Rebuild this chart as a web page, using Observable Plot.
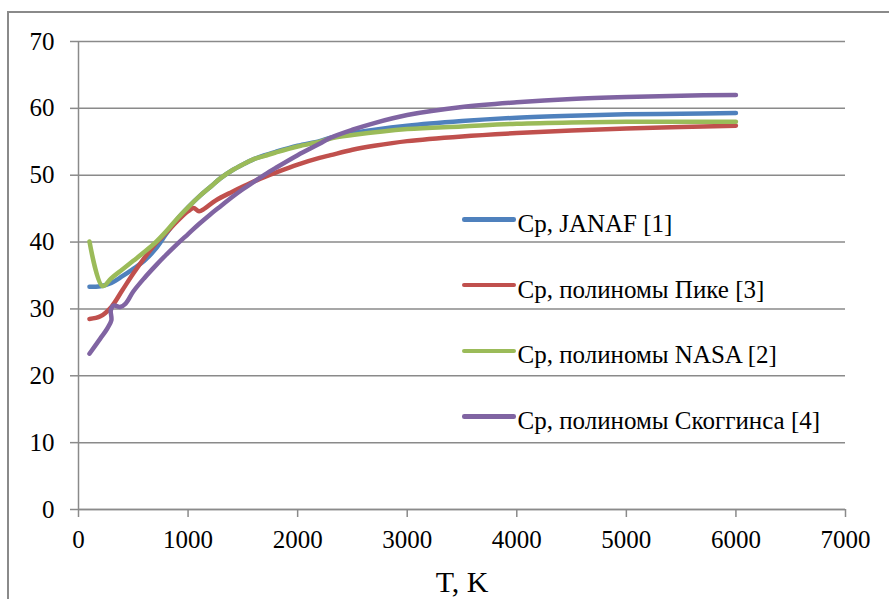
<!DOCTYPE html>
<html>
<head>
<meta charset="utf-8">
<script src="https://cdn.jsdelivr.net/npm/d3@7"></script>
<script src="https://cdn.jsdelivr.net/npm/@observablehq/plot@0.6"></script>
<style>
  html, body { margin: 0; padding: 0; background: #fff; overflow: hidden; }
  #wrap { position: relative; width: 889px; height: 599px; overflow: hidden; font-family: "Liberation Serif", Tinos, serif; }
  #border { position: absolute; left: 7px; top: 11px; width: 960px; height: 720px; border: 2px solid #8a8a8a; box-sizing: border-box; pointer-events: none; }
  #chart { position: absolute; left: 0; top: 0; }
  .sw { position: absolute; height: 4.5px; border-radius: 2.25px; width: 54.5px; left: 461.5px; }
  .lt { position: absolute; left: 517.5px; font-size: 25px; line-height: 25px; white-space: nowrap; color: #000; font-family: "Liberation Serif", Tinos, serif; }
</style>
</head>
<body>
<div id="wrap"><div id="border"></div><div id="chart"></div><div id="legend"></div></div>
<script>
// ---- Data ----
const seriesNames = ["Cp, JANAF [1]", "Cp, полиномы Пике [3]", "Cp, полиномы NASA [2]", "Cp, полиномы Скоггинса [4]"];
const seriesColors = ["#4F81BD", "#C0504D", "#9BBB59", "#8064A2"];

const T_janaf  = [100, 200, 300, 400, 500, 600, 700, 800, 900, 1000, 1100, 1200, 1300, 1400, 1500, 1600, 1700, 1800, 2000, 2200, 2300, 2500, 3000, 3500, 4000, 4500, 5000, 5500, 6000];
const cp_janaf = [33.3, 33.4, 33.9, 34.9, 36.0, 37.2, 38.9, 41.2, 43.4, 45.2, 46.8, 48.2, 49.6, 50.7, 51.6, 52.4, 53.0, 53.5, 54.4, 55.1, 55.6, 56.3, 57.4, 58.1, 58.6, 58.9, 59.1, 59.2, 59.3];

const T_pike  = [100, 200, 300, 400, 500, 600, 700, 800, 900, 1000, 1050, 1100, 1150, 1250, 1400, 1500, 1660, 1800, 2000, 2200, 2300, 2500, 2700, 3000, 3500, 4000, 4500, 5000, 5500, 6000];
const cp_pike = [28.5, 28.9, 30.3, 32.8, 35.3, 37.6, 39.7, 41.4, 43.1, 44.6, 45.1, 44.6, 45.0, 46.2, 47.5, 48.3, 49.5, 50.4, 51.6, 52.6, 53.0, 53.8, 54.4, 55.1, 55.8, 56.3, 56.7, 57.0, 57.2, 57.4];

const T_nasa  = [100, 220, 300, 400, 500, 600, 700, 800, 900, 1000, 1100, 1200, 1300, 1400, 1500, 1600, 1700, 1800, 2000, 2200, 2300, 2500, 3000, 3500, 4000, 4500, 5000, 5500, 6000];
const cp_nasa = [40.1, 33.4, 34.6, 35.9, 37.2, 38.5, 39.9, 41.6, 43.5, 45.2, 46.8, 48.2, 49.6, 50.7, 51.6, 52.4, 52.9, 53.4, 54.3, 55.0, 55.5, 56.0, 56.9, 57.3, 57.7, 57.9, 58.0, 58.0, 58.0];

const T_skog  = [100, 200, 260, 300, 295, 320, 380, 430, 500, 600, 700, 800, 900, 1000, 1100, 1200, 1300, 1400, 1500, 1600, 1700, 1800, 2000, 2200, 2300, 2500, 2700, 3000, 3500, 4000, 4500, 5000, 5500, 6000];
const cp_skog = [23.3, 25.6, 27.0, 28.3, 29.8, 30.5, 30.3, 30.8, 32.6, 34.6, 36.4, 38.1, 39.7, 41.2, 42.7, 44.1, 45.4, 46.7, 47.9, 49.0, 50.1, 51.1, 53.0, 54.7, 55.6, 56.8, 57.8, 59.0, 60.2, 60.9, 61.4, 61.7, 61.9, 62.0];

const xTicks = [0, 1000, 2000, 3000, 4000, 5000, 6000, 7000];
const yTicks = [0, 10, 20, 30, 40, 50, 60, 70];
const xTitle = "T, K";

// ---- Build table ----
const seriesT = [T_janaf, T_pike, T_nasa, T_skog];
const seriesCp = [cp_janaf, cp_pike, cp_nasa, cp_skog];
const rows = [];
seriesNames.forEach((name, k) => {
  seriesT[k].forEach((t, i) => rows.push({series: name, T: t, cp: seriesCp[k][i]}));
});

const gridColor = "#8a8a8a";
const serif = '"Liberation Serif", Tinos, serif';

const chart = Plot.plot({
  width: 889,
  height: 599,
  marginLeft: 78,
  marginRight: 44,
  marginTop: 41,
  marginBottom: 90,
  style: {fontFamily: serif, fontSize: "25px", color: "#000", background: "transparent", overflow: "visible"},
  x: {domain: [0, 7000], label: null},
  y: {domain: [0, 70], label: null},
  color: {domain: seriesNames, range: seriesColors},
  marks: [
    Plot.gridY(yTicks, {stroke: gridColor, strokeOpacity: 1, strokeWidth: 1.5}),
    Plot.axisY(yTicks, {tickSize: 8, tickPadding: 16, stroke: gridColor, strokeOpacity: 1, strokeWidth: 1.5, fontSize: 25, fontFamily: serif, label: null, tickFormat: d => String(d)}),
    Plot.axisX(xTicks, {tickSize: 8, tickPadding: 13, stroke: gridColor, strokeOpacity: 1, strokeWidth: 1.5, fontSize: 25, fontFamily: serif, label: null, tickFormat: d => String(d)}),
    Plot.ruleX([0], {stroke: gridColor, strokeWidth: 1.5}),
    Plot.ruleY([0], {stroke: gridColor, strokeWidth: 1.5}),
    Plot.line(rows, {x: "T", y: "cp", z: "series", stroke: "series", strokeWidth: 4.5, curve: "catmull-rom", strokeLinecap: "round", strokeLinejoin: "round"}),
    Plot.text([xTitle], {frameAnchor: "bottom", dy: 82, fontSize: 30, fontFamily: serif, lineAnchor: "bottom", fill: "#000"})
  ]
});
document.getElementById("chart").appendChild(chart);

// ---- Legend (inside plot area, as in the reference) ----
const legendY = [219.3, 285.1, 350.9, 416.7];
const legend = document.getElementById("legend");
seriesNames.forEach((name, i) => {
  const sw = document.createElement("div");
  sw.className = "sw";
  sw.style.top = (legendY[i] - 2.25) + "px";
  sw.style.background = seriesColors[i];
  legend.appendChild(sw);
  const t = document.createElement("div");
  t.className = "lt";
  t.style.top = (legendY[i] - 8.5) + "px";
  t.textContent = name;
  legend.appendChild(t);
});
</script>
</body>
</html>
